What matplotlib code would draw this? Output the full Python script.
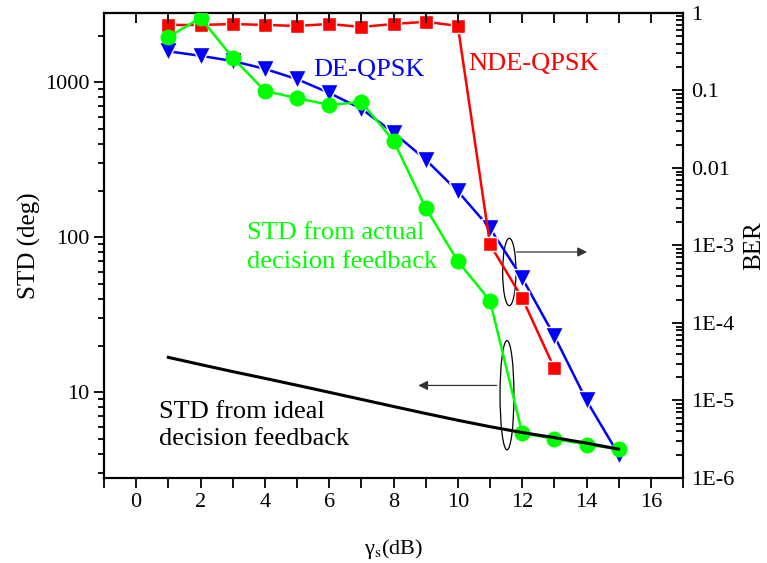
import matplotlib
matplotlib.use("Agg")
import matplotlib.pyplot as plt
from matplotlib.patches import Ellipse
from matplotlib.ticker import LogLocator, NullFormatter, FixedLocator

plt.rcParams['font.family'] = ['Liberation Serif', 'DejaVu Serif']
plt.rcParams['mathtext.fontset'] = 'stix'

# SNR axis (dB)
snr = [1, 2, 3, 4, 5, 6, 7, 8, 9, 10, 11, 12, 13, 14, 15]
snr_nde = [1, 2, 3, 4, 5, 6, 7, 8, 9, 10, 11, 12, 13]

# left axis: STD (deg)
std_actual = [1960, 2600, 1440, 880, 790, 715, 745, 420, 155, 70, 39, 5.45, 5.0, 4.6, 4.3]
std_ideal = [16.8, 15.1, 13.6, 12.3, 11.1, 10.0, 9.0, 8.1, 7.3, 6.6, 6.0, 5.5, 5.1, 4.7, 4.3]

# right axis: BER
ber_de = [0.32, 0.28, 0.24, 0.19, 0.14, 0.093, 0.058, 0.0286, 0.0128, 0.005,
          1.66e-3, 3.8e-4, 6.8e-5, 1.0e-5, 2.0e-6]
ber_nde = [0.70, 0.70, 0.72, 0.70, 0.68, 0.72, 0.66, 0.72, 0.77, 0.68,
           1.03e-3, 2.1e-4, 2.6e-5]

ber_ticks = [1, 0.1, 0.01, 1e-3, 1e-4, 1e-5, 1e-6]
ber_labels = ['1', '0.1', '0.01', '1E-3', '1E-4', '1E-5', '1E-6']

fig = plt.figure(figsize=(7.67, 5.63), dpi=100)
ax = fig.add_axes([0.1356, 0.151, 0.7549, 0.826])
ax2 = ax.twinx()
ax.set_zorder(ax2.get_zorder() + 1)
ax.patch.set_visible(False)

# STD curves
ax.plot(snr, std_actual, '-o', color='#00ff00', lw=1.8, ms=10.5, zorder=3)
ax.plot(snr, std_ideal, '-', color='black', lw=2.2, zorder=4)

# BER curves
ax2.plot(snr, ber_de, '-v', color='#0000ff', lw=1.8, ms=13, mec='white', mew=1.0, zorder=3)
ax2.plot(snr_nde, ber_nde, '-s', color='#ff0000', lw=1.8, ms=10, mec='white', mew=1.0, zorder=4)

ax.set_xlim(-1, 17)
ax.set_yscale('log')
ax.set_ylim(2.8, 2800)
ax2.set_yscale('log')
ax2.set_ylim(1e-6, 1)

ax.set_xticks(range(0, 17, 2))
ax.xaxis.set_minor_locator(FixedLocator(range(-1, 18, 2)))
ax.yaxis.set_minor_locator(LogLocator(base=10, subs=range(2, 10), numticks=20))
ax.yaxis.set_minor_formatter(NullFormatter())
ax.set_yticks([10, 100, 1000])
ax.set_yticklabels(['10', '100', '1000'])

ax2.set_yticks(ber_ticks)
ax2.set_yticklabels(ber_labels)
ax2.yaxis.set_minor_locator(LogLocator(base=10, subs=range(2, 10), numticks=20))
ax2.yaxis.set_minor_formatter(NullFormatter())

ax.tick_params(axis='x', which='both', direction='out', top=False, length=7, width=1.3, labelsize=16)
ax.tick_params(axis='y', which='major', direction='out', length=7, width=1.3, labelsize=16, right=False)
ax.tick_params(axis='y', which='minor', direction='out', length=4, width=1.3, right=False)
ax2.tick_params(axis='y', which='major', direction='in', length=8, width=1.3, labelsize=16, pad=6)
ax2.tick_params(axis='y', which='minor', direction='in', length=5, width=1.3)
ax2.tick_params(axis='x', which='both', bottom=False, top=False)

# top axis ticks pointing inward
sec = ax.secondary_xaxis('top')
sec.set_xticks(range(-1, 18, 1))
sec.tick_params(direction='in', length=7, width=1.3, labeltop=False)
sec.spines['top'].set_linewidth(1.5)

for sp in ax.spines.values():
    sp.set_linewidth(1.5)
for sp in ax2.spines.values():
    sp.set_linewidth(1.5)

ax.set_xlabel('γ$_\\mathrm{s}$(dB)', fontsize=16, labelpad=18)
ax.set_ylabel('STD (deg)', fontsize=18, labelpad=3)
ax2.set_ylabel('BER', fontsize=18, labelpad=6)

# annotations
ax.text(7.25, 1200, 'DE-QPSK', color='#0000ff', fontsize=19, ha='center', va='center')
ax2.text(12.36, 0.22, 'NDE-QPSK', color='#ff0000', fontsize=19, ha='center', va='center')
ax.text(3.45, 86, 'STD from actual\ndecision feedback', color='#00ff00', fontsize=19,
        ha='left', va='center', linespacing=1.4)
ax.text(0.71, 6.1, 'STD from ideal\ndecision feedback', color='black', fontsize=19,
        ha='left', va='center', linespacing=1.3)

# ellipses + arrows (axes fraction coords)
ax2.add_patch(Ellipse((0.700, 0.443), 0.023, 0.145, transform=ax.transAxes,
                      fill=False, lw=0.9, edgecolor='black'))
ax2.add_patch(Ellipse((0.696, 0.178), 0.024, 0.235, transform=ax.transAxes,
                      fill=False, lw=0.9, edgecolor='black', zorder=5))
ax.annotate('', xy=(0.839, 0.486), xytext=(0.708, 0.486), xycoords='axes fraction',
            arrowprops=dict(arrowstyle='-|>', color='#333333', lw=0.9, mutation_scale=14))
ax.annotate('', xy=(0.538, 0.199), xytext=(0.683, 0.199), xycoords='axes fraction',
            arrowprops=dict(arrowstyle='-|>', color='#333333', lw=0.9, mutation_scale=14))

fig.savefig('out.png', dpi=100)
